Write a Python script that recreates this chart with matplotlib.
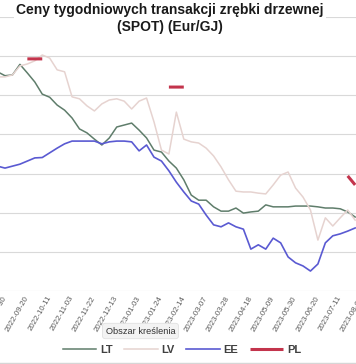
import numpy as np
import matplotlib
matplotlib.use("Agg")
import matplotlib.pyplot as plt
from matplotlib.lines import Line2D

plt.rcParams['font.family'] = ['Liberation Sans', 'DejaVu Sans']

# weekly prices, Eur/GJ (first point is one week before the first label)
lt = [8.60, 8.50, 8.52, 8.79, 8.57, 8.34, 8.03, 7.95, 7.75, 7.62, 7.42, 7.14, 7.04, 6.88, 6.73, 6.91,
      7.19, 7.24, 7.29, 7.11, 6.91, 6.60, 6.55, 6.32, 6.14, 5.84, 5.45, 5.32, 5.32, 5.15, 5.04, 5.04,
      5.12, 4.99, 5.02, 5.04, 5.20, 5.15, 5.15, 5.15, 5.17, 5.17, 5.17, 5.15, 5.12, 5.12, 5.10, 5.02, 4.89]
lv = [8.47, 8.47, 8.52, 8.75, 8.80, 8.88, 9.03, 8.95, 8.65, 8.60, 7.96, 7.91, 7.73, 7.60, 7.78, 7.88,
      7.91, 7.85, 7.65, 7.85, 7.93, 7.32, 6.60, 6.50, 7.57, 6.88, 6.81, 6.78, 6.65, 6.45, 6.17, 5.84,
      5.55, 5.53, 5.53, 5.50, 5.48, 5.71, 5.96, 6.04, 5.63, 5.40, 5.07, 4.30, 4.87, 4.66, 4.87, 5.07, 4.81]
ee = [6.19, 6.14, 6.19, 6.24, 6.32, 6.40, 6.41, 6.53, 6.65, 6.76, 6.83, 6.83, 6.83, 6.83, 6.76, 6.81,
      6.83, 6.83, 6.81, 6.58, 6.73, 6.42, 6.32, 6.07, 5.78, 5.53, 5.30, 5.22, 4.94, 4.69, 4.64, 4.74,
      4.64, 4.58, 4.07, 4.18, 4.07, 4.35, 4.23, 3.87, 3.72, 3.64, 3.51, 3.69, 4.23, 4.41, 4.46, 4.53, 4.61]
nan = np.nan
pl = [nan, nan, nan, nan, 8.93, 8.93, 8.93, nan, nan, nan, nan, nan, nan, nan, nan, nan,
      nan, nan, nan, nan, nan, nan, nan, 8.21, 8.21, 8.21, nan, nan, nan, nan, nan, nan,
      nan, nan, nan, nan, nan, nan, nan, nan, nan, nan, nan, nan, nan, nan, nan, 5.94, 5.71]

date_labels = ['2022-08-30', '2022-09-20', '2022-10-11', '2022-11-03', '2022-11-22', '2022-12-13',
               '2023-01-03', '2023-01-24', '2023-02-14', '2023-03-07', '2023-03-28', '2023-04-18',
               '2023-05-09', '2023-05-30', '2023-06-20', '2023-07-11', '2023-08-01']

x = np.arange(-1, len(lt) - 1)

fig = plt.figure(figsize=(3.56, 3.64), dpi=100)
# the chart is cropped at both sides, so the axes run past the figure edges
ax = fig.add_axes([-6.175 / 356, 73 / 364, 376.225 / 356, 274 / 364])

ax.plot(x, lt, color='#5f7d6b', lw=1.1, label='LT')
ax.plot(x, lv, color='#e6d3d0', lw=1.1, label='LV')
ax.plot(x, ee, color='#5a5ad2', lw=1.2, label='EE')
ax.plot(x, pl, color='#c3344c', lw=2.2, label='PL', solid_capstyle='butt')

ax.set_xlim(-1.5, 49)
ax.set_ylim(3, 10)
ax.set_yticks(np.arange(3, 11, 1))
ax.set_yticklabels([])
ax.grid(axis='y', color='#d9d9d9', lw=0.8)
ax.set_axisbelow(True)
for s in ax.spines.values():
    s.set_visible(False)

ax.set_xticks(np.arange(0, 3 * len(date_labels), 3))
ax.set_xticklabels(date_labels, rotation=60, ha='right', va='center', rotation_mode='anchor',
                   fontsize=5.6, color='#595959')
ax.tick_params(axis='both', length=0)
ax.tick_params(axis='x', pad=4)

fig.text(170 / 356, 1 - 18.5 / 364, 'Ceny tygodniowych transakcji zrębki drzewnej\n(SPOT) (Eur/GJ)',
         ha='center', va='center', fontsize=10, fontweight='bold', color='#1a1a1a', linespacing=1.2,
         bbox=dict(boxstyle='square,pad=0.15', fc='white', ec='none'))

fig.legend(loc='center', bbox_to_anchor=(182 / 356, 1 - 350 / 364), ncol=4, frameon=False,
           handlelength=3.0, handletextpad=0.35, columnspacing=1.05,
           prop={'size': 8, 'weight': 'bold'}, labelcolor='#404040')

fig.text(140.5 / 356, 1 - 331 / 364, 'Obszar kreślenia', ha='center', va='center', fontsize=6.7,
         color='#333333', bbox=dict(boxstyle='round,pad=0.35', fc='#f3f3f3', ec='#dcdcdc', lw=0.5))

fig.add_artist(Line2D([0, 1], [1.5 / 364, 1.5 / 364], color='#d6d6d6', lw=1))

fig.savefig('out.png', dpi=100)
